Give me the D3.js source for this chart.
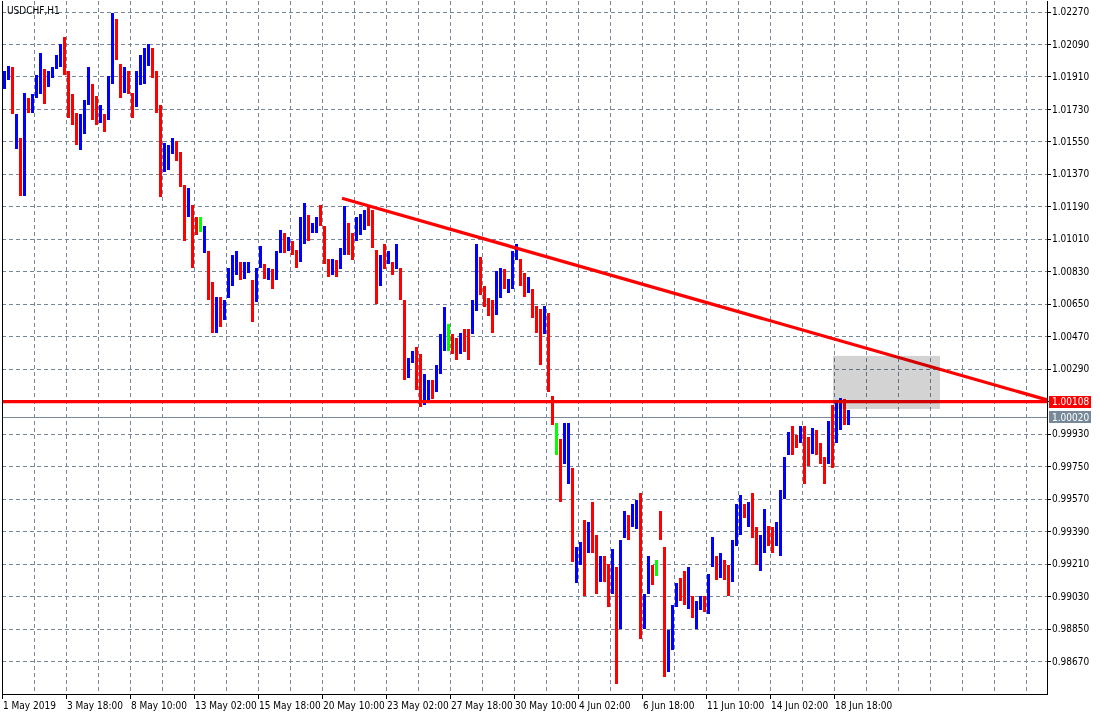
<!DOCTYPE html>
<html>
<head>
<meta charset="utf-8">
<script src="https://cdn.jsdelivr.net/npm/d3@7"></script>
<style>
  body { margin: 0; background: #fff; }
  svg { display: block; }
  text { font-family: 'DejaVu Sans Condensed', 'DejaVu Sans', sans-serif; font-size: 10px; fill: #000; }
</style>
</head>
<body>
<div id="chart"></div>
<script>
const symbol = 'USDCHF,H1'
const hoursPerBar = 4
const hoursPerLabel = 64

// 4-hour bars
const barHigh = [
  1.0194,1.0197,1.0196,1.0170,1.0157,1.0182,1.0179,1.0181,1.0192,1.0204,
  1.0195,1.0194,1.0196,1.0203,1.0209,1.0213,1.0194,1.0181,1.0171,1.0170,
  1.0178,1.0196,1.0187,1.0180,1.0175,1.0170,1.0191,1.0226,1.0223,1.0198,
  1.0196,1.0194,1.0182,1.0194,1.0203,1.0207,1.0209,1.0207,1.0194,1.0175,
  1.0154,1.0153,1.0157,1.0155,1.0149,1.0131,1.0129,1.0120,1.0113,1.0113,
  1.0108,1.0094,1.0077,1.0069,1.0069,1.0067,1.0085,1.0092,1.0094,1.0088,
  1.0088,1.0088,1.0078,1.0085,1.0097,1.0087,1.0085,1.0084,1.0094,1.0106,
  1.0104,1.0102,1.0100,1.0095,1.0113,1.0121,1.0114,1.0110,1.0113,1.0120,
  1.0108,1.0090,1.0090,1.0089,1.0096,1.0119,1.0110,1.0104,1.0113,1.0115,
  1.0117,1.0119,1.0117,1.0095,1.0092,1.0098,1.0094,1.0088,1.0098,1.0085,
  1.0067,1.0035,1.0039,1.0041,1.0037,1.0026,1.0023,1.0023,1.0031,1.0048,
  1.0063,1.0054,1.0048,1.0046,1.0049,1.0051,1.0051,1.0067,1.0098,1.0091,
  1.0075,1.0068,1.0067,1.0083,1.0085,1.0084,1.0079,1.0094,1.0098,1.0090,
  1.0082,1.0080,1.0073,1.0064,1.0062,1.0064,1.0060,1.0014,0.9999,0.9990,
  0.9999,0.9999,0.9974,0.9930,0.9933,0.9945,0.9944,0.9955,0.9937,0.9925,
  0.9925,0.9921,0.9929,0.9919,0.9934,0.9950,0.9948,0.9954,0.9956,0.9960,
  0.9904,0.9925,0.9920,0.9923,0.9950,0.9930,0.9884,0.9898,0.9910,0.9913,
  0.9917,0.9919,0.9903,0.9900,0.9903,0.9903,0.9915,0.9936,0.9925,0.9927,
  0.9923,0.9920,0.9934,0.9954,0.9959,0.9954,0.9955,0.9960,0.9941,0.9937,
  0.9951,0.9942,0.9941,0.9944,0.9962,0.9980,0.9994,0.9997,0.9992,0.9997,
  0.9997,0.9991,0.9996,0.9995,0.9988,0.9980,1.0000,1.0009,1.0010,1.0013,
  1.0012,1.0006
]
const barLow = [
  1.0184,1.0189,1.0170,1.0151,1.0125,1.0125,1.0171,1.0171,1.0179,1.0181,
  1.0176,1.0185,1.0190,1.0195,1.0196,1.0192,1.0168,1.0164,1.0153,1.0150,
  1.0159,1.0175,1.0167,1.0164,1.0165,1.0160,1.0167,1.0187,1.0200,1.0179,
  1.0182,1.0181,1.0168,1.0174,1.0186,1.0187,1.0197,1.0190,1.0171,1.0124,
  1.0138,1.0139,1.0148,1.0144,1.0130,1.0100,1.0113,1.0085,1.0103,1.0105,
  1.0093,1.0067,1.0049,1.0049,1.0052,1.0056,1.0068,1.0075,1.0081,1.0078,
  1.0079,1.0082,1.0055,1.0066,1.0085,1.0079,1.0078,1.0073,1.0078,1.0093,
  1.0093,1.0094,1.0092,1.0085,1.0088,1.0098,1.0100,1.0104,1.0104,1.0108,
  1.0087,1.0080,1.0081,1.0080,1.0084,1.0092,1.0092,1.0089,1.0100,1.0103,
  1.0106,1.0108,1.0096,1.0065,1.0075,1.0084,1.0087,1.0081,1.0084,1.0067,
  1.0023,1.0024,1.0032,1.0017,1.0008,1.0009,1.0011,1.0012,1.0016,1.0026,
  1.0039,1.0039,1.0037,1.0034,1.0037,1.0038,1.0034,1.0048,1.0061,1.0070,
  1.0063,1.0058,1.0049,1.0059,1.0068,1.0073,1.0071,1.0073,1.0089,1.0075,
  1.0069,1.0071,1.0057,1.0049,1.0031,1.0048,1.0016,0.9998,0.9981,0.9955,
  0.9976,0.9965,0.9922,0.9910,0.9920,0.9903,0.9927,0.9927,0.9904,0.9911,
  0.9911,0.9897,0.9904,0.9854,0.9885,0.9935,0.9934,0.9941,0.9940,0.9879,
  0.9885,0.9904,0.9909,0.9914,0.9934,0.9858,0.9861,0.9873,0.9897,0.9900,
  0.9898,0.9896,0.9891,0.9885,0.9895,0.9894,0.9893,0.9919,0.9912,0.9913,
  0.9912,0.9903,0.9911,0.9931,0.9937,0.9946,0.9941,0.9935,0.9920,0.9917,
  0.9927,0.9931,0.9927,0.9931,0.9925,0.9957,0.9981,0.9981,0.9985,0.9988,
  0.9965,0.9975,0.9982,0.9981,0.9976,0.9965,0.9976,0.9974,0.9988,0.9995,
  0.9998,0.9998
]
// u = up bar, d = down bar, g = doji
const barDir = ('uudududuuu' + 'duuuuddddu' + 'uudduduudd' + 'udduuuuddd' + 'uuuddduddg' +
                'udduduuuud' + 'uuduududuu' + 'dudduuduud' + 'dduduudduu' + 'udddududud' +
                'duudduuduu' + 'ugddudduud' + 'ddduuduuud' + 'duddduddgd' + 'uuduududdu' +
                'dduduuduud' + 'uudgdduuud' + 'duduuduudu' + 'dduuududdu' + 'udduuuuddu' +
                'dduddduduu' + 'du').split('')

const priceTicks = [1.02270, 1.02090, 1.01910, 1.01730, 1.01550, 1.01370, 1.01190, 1.01010, 1.00830, 1.00650, 1.00470,
                    1.00290, 1.00110, 0.99930, 0.99750, 0.99570, 0.99390, 0.99210, 0.99030, 0.98850, 0.98670]
const timeLabels = ['1 May 2019', '3 May 18:00', '8 May 10:00', '13 May 02:00', '15 May 18:00', '20 May 10:00', '23 May 02:00',
                    '27 May 18:00', '30 May 10:00', '4 Jun 02:00', '6 Jun 18:00', '11 Jun 10:00', '14 Jun 02:00', '18 Jun 18:00']

const levelPrice = 1.00108
const bidPrice = 1.00020
const trendHours = [340, 1045]
const trendPrices = [1.01235, 1.00117]
const boxHours = [831, 938]
const boxPrices = [1.00361, 1.00067]

const width = 1100, height = 713
const plot = {left: 2, right: 1047, top: 1, bottom: 694}

var svg = d3.select('#chart').append('svg').attr('width', width).attr('height', height)

var x = d3.scaleLinear().domain([0, 1045]).range([plot.left, plot.right])
var y = d3.scaleLinear().domain([0.98670, 1.02270]).range([661, 11.5])

var gridColor = '#778899'

// grid
var grid = svg.append('g').attr('stroke', gridColor).attr('stroke-dasharray', '4,3').attr('shape-rendering', 'crispEdges')
grid.selectAll('.vg').data(d3.range(32, 1045, 32)).enter().append('line')
  .attr('x1', d => Math.round(x(d)) + 0.5).attr('x2', d => Math.round(x(d)) + 0.5)
  .attr('y1', plot.top).attr('y2', plot.bottom)
grid.selectAll('.hg').data(priceTicks).enter().append('line')
  .attr('x1', plot.left).attr('x2', plot.right)
  .attr('y1', d => Math.round(y(d)) + 0.5).attr('y2', d => Math.round(y(d)) + 0.5)

// bid line
svg.append('line').attr('x1', plot.left).attr('x2', plot.right)
  .attr('y1', Math.round(y(bidPrice)) + 0.5).attr('y2', Math.round(y(bidPrice)) + 0.5)
  .attr('stroke', gridColor).attr('stroke-width', 1.2)

// bars
var colors = {u: '#0000ff', d: '#ff0000', g: '#00ff00'}
svg.append('g').attr('shape-rendering', 'crispEdges').selectAll('rect')
  .data(barHigh.map((h, i) => ({i: i, high: h, low: barLow[i], dir: barDir[i]})))
  .enter().append('rect')
  .attr('x', d => x(d.i * hoursPerBar + hoursPerBar / 2) - 1.5)
  .attr('width', 3)
  .attr('y', d => y(d.high))
  .attr('height', d => Math.max(1, y(d.low) - y(d.high)))
  .attr('fill', d => colors[d.dir])

// horizontal level and trend line
svg.append('line').attr('x1', plot.left).attr('x2', plot.right)
  .attr('y1', y(levelPrice)).attr('y2', y(levelPrice))
  .attr('stroke', '#ff0000').attr('stroke-width', 3.3)
svg.append('line')
  .attr('x1', x(trendHours[0])).attr('y1', y(trendPrices[0]))
  .attr('x2', x(trendHours[1])).attr('y2', y(trendPrices[1]))
  .attr('stroke', '#ff0000').attr('stroke-width', 3.3)

// grey zone
svg.append('rect')
  .attr('x', x(boxHours[0])).attr('width', x(boxHours[1]) - x(boxHours[0]))
  .attr('y', y(boxPrices[0])).attr('height', y(boxPrices[1]) - y(boxPrices[0]))
  .attr('fill', '#d3d3d3').style('mix-blend-mode', 'multiply')

// frame
svg.append('path')
  .attr('d', 'M' + (plot.left + 0.5) + ',' + plot.top + 'V' + (plot.bottom + 0.5) + 'H' + (plot.right + 0.5) + 'V' + plot.top)
  .attr('fill', 'none').attr('stroke', '#000').attr('shape-rendering', 'crispEdges')

// price axis
var pa = svg.append('g')
pa.selectAll('line').data(priceTicks).enter().append('line')
  .attr('x1', plot.right).attr('x2', plot.right + 4)
  .attr('y1', d => Math.round(y(d)) + 0.5).attr('y2', d => Math.round(y(d)) + 0.5)
  .attr('stroke', '#000').attr('shape-rendering', 'crispEdges')
pa.selectAll('text').data(priceTicks).enter().append('text')
  .attr('x', plot.right + 5).attr('y', d => y(d)).attr('dy', '0.36em')
  .text(d => d.toFixed(5))

// price tags
function tag(price, fill) {
  var g = svg.append('g')
  g.append('rect').attr('x', plot.right + 2).attr('y', Math.round(y(price)) - 6).attr('width', 42).attr('height', 12).attr('fill', fill)
  g.append('text').attr('x', plot.right + 5).attr('y', y(price)).attr('dy', '0.36em').style('fill', '#fff').text(price.toFixed(5))
}
tag(levelPrice, '#ff0000')
tag(bidPrice, gridColor)

// time axis
var ta = svg.append('g')
ta.selectAll('line').data(timeLabels).enter().append('line')
  .attr('x1', (d, i) => Math.round(x(i * hoursPerLabel)) + 0.5).attr('x2', (d, i) => Math.round(x(i * hoursPerLabel)) + 0.5)
  .attr('y1', plot.bottom).attr('y2', plot.bottom + 5)
  .attr('stroke', '#000').attr('shape-rendering', 'crispEdges')
ta.selectAll('text').data(timeLabels).enter().append('text')
  .attr('x', (d, i) => x(i * hoursPerLabel) + 1).attr('y', plot.bottom + 15)
  .text(d => d)

svg.append('text').attr('x', 7).attr('y', 14).text(symbol)
</script>
</body>
</html>
